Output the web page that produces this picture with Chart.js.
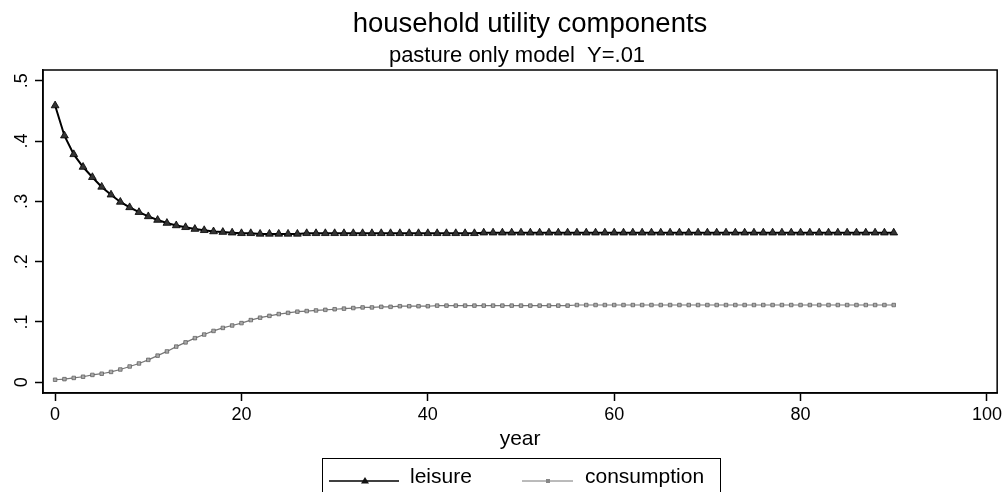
<!DOCTYPE html>
<html>
<head>
<meta charset="utf-8">
<script src="https://cdn.jsdelivr.net/npm/chart.js@4.4.1/dist/chart.umd.min.js"></script>
<style>
  html, body { margin: 0; padding: 0; background: #fff; }
  #wrap { width: 1005px; height: 492px; position: relative; }
</style>
</head>
<body>
<div id="wrap"><canvas id="chart"></canvas></div>
<script>
// years 0..90
const years = [
  0, 1, 2, 3, 4, 5, 6, 7, 8, 9, 10, 11, 12, 13, 14, 15, 16, 17, 18, 19,
  20, 21, 22, 23, 24, 25, 26, 27, 28, 29, 30, 31, 32, 33, 34, 35, 36, 37, 38, 39,
  40, 41, 42, 43, 44, 45, 46, 47, 48, 49, 50, 51, 52, 53, 54, 55, 56, 57, 58, 59,
  60, 61, 62, 63, 64, 65, 66, 67, 68, 69, 70, 71, 72, 73, 74, 75, 76, 77, 78, 79,
  80, 81, 82, 83, 84, 85, 86, 87, 88, 89, 90
];

const leisure = [
  .459, .409, .378, .357, .340, .324, .311, .299, .290, .282,
  .275, .269, .264, .260, .257, .254, .252, .250, .249, .248,
  .247, .247, .246, .246, .246, .246, .246, .247, .247, .247,
  .247, .247, .247, .247, .247, .247, .247, .247, .247, .247,
  .247, .247, .247, .247, .247, .247, .248, .248, .248, .248,
  .248, .248, .248, .248, .248, .248, .248, .248, .248, .248,
  .248, .248, .248, .248, .248, .248, .248, .248, .248, .248,
  .248, .248, .248, .248, .248, .248, .248, .248, .248, .248,
  .248, .248, .248, .248, .248, .248, .248, .248, .248, .248,
  .248
];

const consumption = [
  .004, .005, .007, .009, .012, .014, .017, .021, .026, .031,
  .037, .044, .051, .059, .066, .073, .079, .085, .090, .094,
  .098, .103, .107, .110, .113, .115, .117, .118, .119, .120,
  .121, .122, .123, .124, .124, .125, .125, .126, .126, .126,
  .126, .127, .127, .127, .127, .127, .127, .127, .127, .127,
  .127, .127, .127, .127, .127, .127, .128, .128, .128, .128,
  .128, .128, .128, .128, .128, .128, .128, .128, .128, .128,
  .128, .128, .128, .128, .128, .128, .128, .128, .128, .128,
  .128, .128, .128, .128, .128, .128, .128, .128, .128, .128,
  .128
];

const yTicks = [0, .1, .2, .3, .4, .5];
const yTickLabels = ["0", ".1", ".2", ".3", ".4", ".5"];

const FONT = "'Liberation Sans', Arial, Helvetica, sans-serif";

// titles, rotated y labels, frame and boxed legend
const decor = {
    id: "decor",
    afterDraw(chart) {
        const ctx = chart.ctx;
        const a = chart.chartArea;
        const y = chart.scales.y;
        ctx.save();
        ctx.fillStyle = "#000";
        ctx.textAlign = "center";
        ctx.textBaseline = "alphabetic";
        ctx.font = "27.5px " + FONT;
        ctx.fillText("household utility components", 530, 32);
        ctx.font = "22px " + FONT;
        ctx.fillText("pasture only model  Y=.01", 517, 62);

        // frame
        ctx.strokeStyle = "#000";
        ctx.lineWidth = 1.5;
        ctx.strokeRect(a.left, a.top, a.right - a.left, a.bottom - a.top);

        // y tick labels, rotated
        ctx.font = "18px " + FONT;
        ctx.textBaseline = "middle";
        yTicks.forEach((v, i) => {
            ctx.save();
            ctx.translate(22, y.getPixelForValue(v));
            ctx.rotate(-Math.PI / 2);
            ctx.fillText(yTickLabels[i], 0, 0);
            ctx.restore();
        });

        // legend
        ctx.lineWidth = 1;
        ctx.strokeRect(322.5, 458.5, 398, 50);
        const ly = 481;
        ctx.strokeStyle = "#000";
        ctx.lineWidth = 1.5;
        ctx.beginPath();
        ctx.moveTo(329, ly);
        ctx.lineTo(399, ly);
        ctx.stroke();
        ctx.fillStyle = "#111";
        ctx.beginPath();
        ctx.moveTo(365, ly - 4);
        ctx.lineTo(369, ly + 2.5);
        ctx.lineTo(361, ly + 2.5);
        ctx.closePath();
        ctx.fill();

        ctx.strokeStyle = "#777";
        ctx.lineWidth = 1;
        ctx.beginPath();
        ctx.moveTo(522, ly);
        ctx.lineTo(573, ly);
        ctx.stroke();
        ctx.fillStyle = "#888";
        ctx.fillRect(546, ly - 2, 4, 4);

        ctx.fillStyle = "#000";
        ctx.textAlign = "left";
        ctx.textBaseline = "alphabetic";
        ctx.font = "21px " + FONT;
        ctx.fillText("leisure", 410, 483);
        ctx.fillText("consumption", 585, 483);
        ctx.restore();
    }
};

new Chart(document.getElementById("chart"), {
    type: "line",
    data: {
        datasets: [
            {
                label: "leisure",
                data: years.map((yr, i) => ({ x: yr, y: leisure[i] })),
                borderColor: "#000",
                borderWidth: 2,
                pointStyle: "triangle",
                pointRadius: 4.5,
                pointBackgroundColor: "#333",
                pointBorderColor: "#000",
                pointBorderWidth: 0.8,
                tension: 0,
            },
            {
                label: "consumption",
                data: years.map((yr, i) => ({ x: yr, y: consumption[i] })),
                borderColor: "#777",
                borderWidth: 1.2,
                pointStyle: "rect",
                pointRadius: 2.5,
                pointBackgroundColor: "#aaa",
                pointBorderColor: "#555",
                pointBorderWidth: 0.7,
                tension: 0,
            },
        ],
    },
    options: {
        responsive: true,
        maintainAspectRatio: false,
        animation: false,
        layout: { padding: { top: 70, right: 7, left: 0, bottom: 0 } },
        plugins: {
            legend: { display: false },
            tooltip: { enabled: false },
        },
        scales: {
            x: {
                type: "linear",
                min: -1.3,
                max: 101.1,
                afterFit: (s) => { s.height = 99; },
                ticks: {
                    stepSize: 20,
                    includeBounds: false,
                    color: "#000",
                    padding: 3,
                    maxRotation: 0,
                    font: { family: FONT, size: 18 },
                },
                grid: {
                    drawOnChartArea: false,
                    tickLength: 8,
                    tickWidth: 1.5,
                    tickColor: "#000",
                },
                border: { display: true, color: "#000", width: 1.5 },
                title: {
                    display: true,
                    text: "year",
                    color: "#000",
                    font: { family: FONT, size: 21 },
                    padding: { top: 0, bottom: 40 },
                },
            },
            y: {
                type: "linear",
                min: -0.018,
                max: 0.518,
                afterFit: (s) => { s.width = 43; },
                ticks: {
                    stepSize: 0.1,
                    includeBounds: false,
                    display: false,
                },
                grid: {
                    drawOnChartArea: false,
                    tickLength: 8,
                    tickWidth: 1.5,
                    tickColor: "#000",
                },
                border: { display: true, color: "#000", width: 1.5 },
            },
        },
    },
    plugins: [decor],
});
</script>
</body>
</html>
